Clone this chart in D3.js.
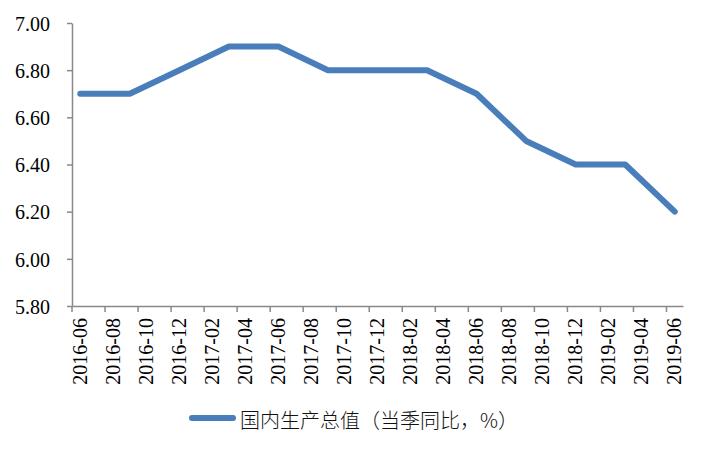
<!DOCTYPE html>
<html>
<head>
<meta charset="utf-8">
<script src="https://cdn.jsdelivr.net/npm/d3@7"></script>
<style>
  body { margin: 0; background: #fff; }
  svg { display: block; }
  .serif text {
    font-family: "Liberation Serif", "Times New Roman", Tinos, "DejaVu Serif", "Noto Serif",
                 FreeSerif, "Noto Serif CJK SC", serif;
    font-size: 20px;
  }
</style>
</head>
<body>
<svg id="chart" width="707" height="450"></svg>
<script>
// quarterly GDP growth, % yoy
const quarters = ['2016-06', '2016-09', '2016-12', '2017-03', '2017-06', '2017-09', '2017-12',
                  '2018-03', '2018-06', '2018-09', '2018-12', '2019-03', '2019-06'];
const gdpValues = [6.7, 6.7, 6.8, 6.9, 6.9, 6.8, 6.8, 6.8, 6.7, 6.5, 6.4, 6.4, 6.2];

const tickLabels = ['2016-06', '2016-08', '2016-10', '2016-12', '2017-02', '2017-04', '2017-06',
                    '2017-08', '2017-10', '2017-12', '2018-02', '2018-04', '2018-06', '2018-08',
                    '2018-10', '2018-12', '2019-02', '2019-04', '2019-06'];
const yTicks = [5.8, 6.0, 6.2, 6.4, 6.6, 6.8, 7.0];
const seriesName = '国内生产总值（当季同比，%）';

const svg = d3.select('#chart');
const lineColor = '#4A7EBB';
const axisColor = '#898989';

// monthly date axis, like the spreadsheet one
const fmt = d3.timeFormat('%Y-%m');
const months = d3.timeMonth.range(new Date(2016, 5, 1), new Date(2019, 6, 1)).map(fmt);

const x = d3.scaleBand().domain(months).range([72, 683]).padding(0);
const bw = x.bandwidth();
const y = d3.scaleLinear().domain([5.8, 7.0]).range([306, 23]);

// y axis
const yAxis = svg.append('g')
    .attr('transform', 'translate(72,0)')
    .call(d3.axisLeft(y).tickValues(yTicks).tickFormat(d3.format('.2f'))
        .tickSize(5).tickSizeOuter(0).tickPadding(17));
yAxis.attr('font-family', null).attr('font-size', null).attr('class', 'serif');
yAxis.select('.domain').attr('stroke', axisColor).attr('stroke-width', 1.5);
yAxis.selectAll('.tick line').attr('stroke', axisColor).attr('stroke-width', 1.5);
yAxis.selectAll('.tick text').attr('fill', '#000').attr('dy', '0.36em');

// x axis
const xAxis = svg.append('g')
    .attr('transform', 'translate(0,306)')
    .call(d3.axisBottom(x).tickValues(tickLabels).tickSize(6).tickSizeOuter(0));
xAxis.attr('font-family', null).attr('font-size', null).attr('class', 'serif');
xAxis.select('.domain').attr('stroke', axisColor).attr('stroke-width', 1.5);
xAxis.selectAll('.tick line').attr('stroke', axisColor).attr('stroke-width', 1.5)
    .attr('x1', -bw / 2).attr('x2', -bw / 2);
xAxis.selectAll('.tick text')
    .attr('fill', '#000')
    .attr('transform', 'rotate(-90)')
    .attr('text-anchor', 'end')
    .attr('x', -12).attr('y', 0).attr('dy', '0.33em');

// line
const points = quarters.map((q, i) => ({ q: q, v: gdpValues[i] }));
const line = d3.line()
    .x((d) => x(d.q) + bw / 2)
    .y((d) => y(d.v));

svg.append('path')
    .datum(points)
    .attr('fill', 'none')
    .attr('stroke', lineColor)
    .attr('stroke-width', 6)
    .attr('stroke-linecap', 'round')
    .attr('stroke-linejoin', 'round')
    .attr('d', line);

// legend
const legend = svg.append('g').attr('transform', 'translate(192,418)');
legend.append('line')
    .attr('x1', 0).attr('x2', 41).attr('y1', 0).attr('y2', 0)
    .attr('stroke', lineColor).attr('stroke-width', 6).attr('stroke-linecap', 'round');
legend.append('text')
    .attr('x', 48).attr('y', 1)
    .attr('dominant-baseline', 'central')
    .style('font-family', '"Noto Sans CJK SC", sans-serif')
    .style('font-size', '20px')
    .style('font-weight', 300)
    .attr('fill', '#111')
    .text(seriesName);
</script>
</body>
</html>
